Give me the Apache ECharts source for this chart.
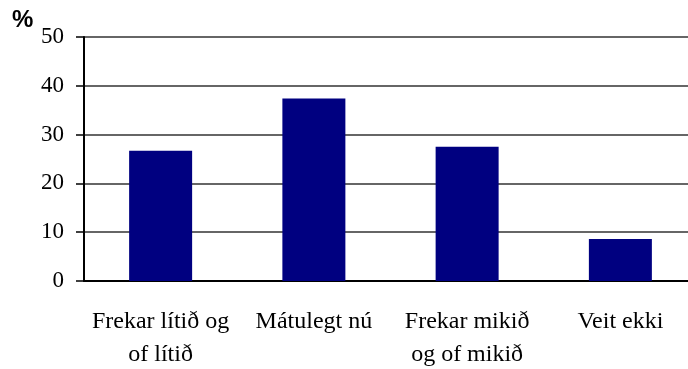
<!DOCTYPE html>
<html>
<head>
<meta charset="utf-8">
<script src="https://cdn.jsdelivr.net/npm/echarts@6/dist/echarts.min.js"></script>
<style>
  html, body { margin: 0; padding: 0; background: #fff; }
  #chart { width: 688px; height: 369px; }
</style>
</head>
<body>
<div id="chart"></div>
<script>
// Survey answers (percent)
const categories = ['Frekar lítið og\nof lítið', 'Mátulegt nú', 'Frekar mikið\nog of mikið', 'Veit ekki'];
const values = [26.7, 37.4, 27.5, 8.6];
const yTicks = [0, 10, 20, 30, 40, 50];

const serif = '"Liberation Serif", "DejaVu Serif", serif';

const chart = echarts.init(document.getElementById('chart'), null, { renderer: 'canvas' });
chart.setOption({
  animation: false,
  // plot area runs a few pixels past the right edge of the canvas
  grid: { left: 84, top: 37, width: 613, height: 244, containLabel: false, outerBoundsMode: 'none' },
  graphic: [{
    type: 'text', left: 12, top: 8,
    style: { text: '%', font: 'bold 24px "Liberation Sans", Arial, sans-serif', fill: '#000' }
  }],
  xAxis: {
    type: 'category',
    data: categories,
    axisLine: { show: true, lineStyle: { color: '#000', width: 2 } },
    axisTick: { show: false },
    axisLabel: {
      color: '#000', fontFamily: serif, fontSize: 24, lineHeight: 33, margin: 24, interval: 0
    }
  },
  yAxis: {
    type: 'value',
    min: yTicks[0], max: yTicks[yTicks.length - 1], interval: 10,
    axisLine: { show: true, lineStyle: { color: '#000', width: 2 } },
    axisTick: { show: true, length: 8, lineStyle: { color: '#000', width: 1.5 } },
    axisLabel: { color: '#000', fontFamily: serif, fontSize: 23, margin: 20 },
    splitLine: { show: true, lineStyle: { color: '#333', width: 1.5 } }
  },
  series: [{
    type: 'bar',
    data: values,
    barWidth: 63,
    itemStyle: { color: '#000080' }
  }]
});
</script>
</body>
</html>
